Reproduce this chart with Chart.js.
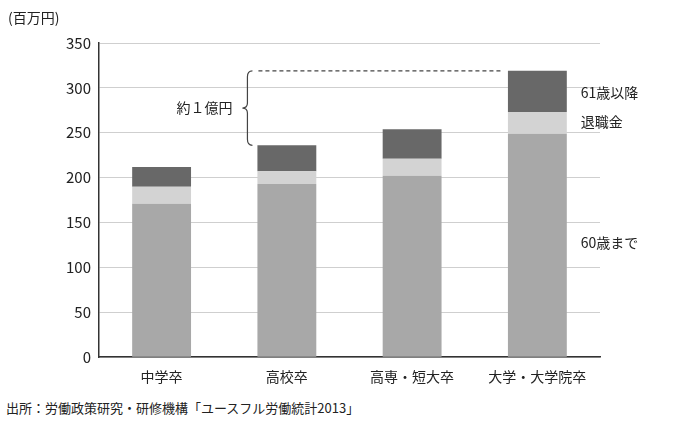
<!DOCTYPE html>
<html lang="ja">
<head>
<meta charset="UTF-8" />
<script src="https://cdn.jsdelivr.net/npm/chart.js"></script>
<style>
  body { margin: 0; background: #fff; font-family: "Noto Sans CJK JP", sans-serif; }
  #wrap { position: relative; width: 675px; height: 423px; }
  #src { position: absolute; left: 6px; top: 398px; font-size: 13px; color: #222; }
</style>
</head>
<body>
<div id="wrap">
  <canvas id="c" width="675" height="388"></canvas>
  <div id="src">出所：労働政策研究・研修機構「ユースフル労働統計2013」</div>
</div>
<script>
const categories = ['中学卒', '高校卒', '高専・短大卒', '大学・大学院卒'];
const until60 = [171, 193, 202, 249];
const retirement = [19, 14, 19, 24];
const after61 = [22, 29, 33, 46];
const seriesNames = ['60歳まで', '退職金', '61歳以降'];

const FONT = '"Noto Sans CJK JP", sans-serif';

const notes = {
  id: 'notes',
  afterDraw(chart) {
    const { ctx, scales: { x, y } } = chart;
    const meta = chart.getDatasetMeta(2);
    const last = meta.data[3];
    const second = meta.data[1];
    const right = last.x + last.width / 2;
    const yTop = y.getPixelForValue(until60[3] + retirement[3] + after61[3]);
    const yHigh = y.getPixelForValue(until60[1] + retirement[1] + after61[1]);
    ctx.save();
    ctx.fillStyle = '#222';
    ctx.font = '14px ' + FONT;
    ctx.textBaseline = 'middle';
    ctx.fillText('61歳以降', right + 14, y.getPixelForValue(295));
    ctx.fillText('退職金', right + 14, y.getPixelForValue(262));
    ctx.fillText('60歳まで', right + 14, y.getPixelForValue(128));
    ctx.fillText('(百万円)', 8, 18);
    const bx = second.x - second.width / 2 - 10;
    // dashed line
    ctx.strokeStyle = '#444';
    ctx.lineWidth = 1.2;
    ctx.setLineDash([4, 3]);
    ctx.beginPath();
    ctx.moveTo(bx + 11, yTop);
    ctx.lineTo(last.x - last.width / 2 - 6, yTop);
    ctx.stroke();
    ctx.setLineDash([]);
    // brace
    const mid = (yTop + yHigh) / 2;
    ctx.beginPath();
    ctx.moveTo(bx + 5, yTop);
    ctx.quadraticCurveTo(bx, yTop, bx, yTop + 6);
    ctx.lineTo(bx, mid - 5);
    ctx.quadraticCurveTo(bx, mid, bx - 5, mid);
    ctx.quadraticCurveTo(bx, mid, bx, mid + 5);
    ctx.lineTo(bx, yHigh - 6);
    ctx.quadraticCurveTo(bx, yHigh, bx + 5, yHigh);
    ctx.stroke();
    ctx.textAlign = 'right';
    ctx.fillText('約１億円', bx - 15, mid);
    ctx.restore();
  }
};

new Chart(document.getElementById('c'), {
  type: 'bar',
  data: {
    labels: categories,
    datasets: [
      { label: seriesNames[0], data: until60, backgroundColor: '#a8a8a8' },
      { label: seriesNames[1], data: retirement, backgroundColor: '#d3d3d3' },
      { label: seriesNames[2], data: after61, backgroundColor: '#686868' }
    ]
  },
  options: {
    responsive: false,
    animation: false,
    layout: { padding: { top: 43, right: 75, left: 58, bottom: 0 } },
    datasets: { bar: { barPercentage: 0.47, categoryPercentage: 1 } },
    plugins: { legend: { display: false }, tooltip: { enabled: false } },
    scales: {
      x: {
        stacked: true,
        grid: { display: false },
        border: { color: '#333', width: 1.5 },
        ticks: { color: '#222', font: { size: 14, family: FONT } }
      },
      y: {
        stacked: true,
        min: 0, max: 350,
        ticks: { stepSize: 50, color: '#222', padding: 8, font: { size: 15, family: FONT } },
        grid: { color: '#cfcfcf', drawTicks: false },
        border: { color: '#333', width: 1.5 }
      }
    }
  },
  plugins: [notes]
});
</script>
</body>
</html>
